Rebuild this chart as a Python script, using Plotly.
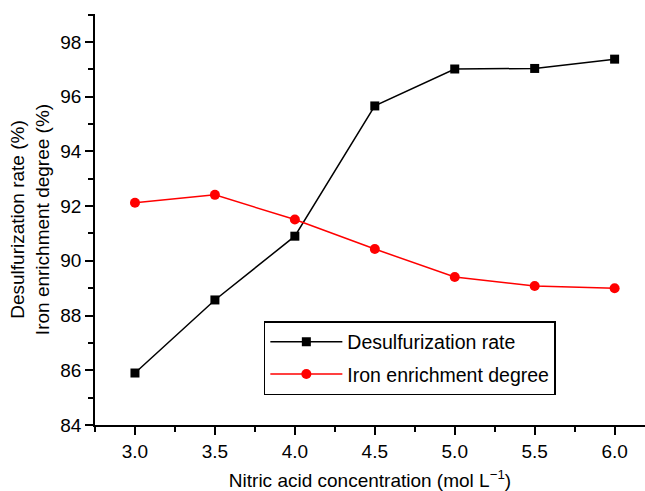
import plotly.graph_objects as go

conc = [3.0, 3.5, 4.0, 4.5, 5.0, 5.5, 6.0]
desulf = [85.9, 88.57, 90.9, 95.66, 97.01, 97.03, 97.37]
iron = [92.12, 92.41, 91.51, 90.43, 89.41, 89.08, 89.0]
x_ticks = [3.0, 3.5, 4.0, 4.5, 5.0, 5.5, 6.0]
y_ticks = [84, 86, 88, 90, 92, 94, 96, 98]

FAM = "Liberation Sans, Arial, sans-serif"
font = dict(family=FAM, size=19, color="black")

fig = go.Figure()
fig.add_trace(go.Scatter(x=conc, y=desulf, mode="lines+markers", name="Desulfurization rate",
                         legendgroup="a",
                         line=dict(color="black", width=1.5),
                         marker=dict(symbol="square", size=9, color="black")))
fig.add_trace(go.Scatter(x=conc, y=iron, mode="lines+markers", name="Iron enrichment degree",
                         legendgroup="b",
                         line=dict(color="red", width=1.5),
                         marker=dict(symbol="circle", size=10, color="red")))

fig.update_layout(
    width=645, height=491,
    margin=dict(l=95, r=0, t=14, b=66),
    paper_bgcolor="white", plot_bgcolor="white",
    font=font,
    showlegend=True,
    legend=dict(x=0.307, y=0.253, xanchor="left", yanchor="top",
                bordercolor="black", borderwidth=1.5, bgcolor="white",
                font=dict(family=FAM, size=19.5),
                itemwidth=72, traceorder="grouped", tracegroupgap=4),
    xaxis=dict(range=[2.75, 6.19], tickvals=x_ticks, ticktext=[f"{v:.1f}" for v in x_ticks],
               automargin=False,
               showline=True, linecolor="black", linewidth=1.5, showgrid=False, zeroline=False,
               ticks="outside", ticklen=8, tickwidth=1.5, tickcolor="black",
               tickfont=dict(size=19),
               minor=dict(dtick=0.25, tick0=2.75, ticks="outside", ticklen=5, tickwidth=1.5, tickcolor="black", showgrid=False),
               title=dict(text="Nitric acid concentration (mol L<sup>−1</sup>)", font=dict(size=19), standoff=18)),
    yaxis=dict(range=[84, 99.02], tickvals=y_ticks,
               automargin=False,
               showline=True, linecolor="black", linewidth=1.5, showgrid=False, zeroline=False,
               ticks="outside", ticklen=8, tickwidth=1.5, tickcolor="black",
               tickfont=dict(size=19),
               minor=dict(dtick=1, tick0=84, ticks="outside", ticklen=5, tickwidth=1.5, tickcolor="black", showgrid=False),
               title=dict(text="Desulfurization rate (%)<br>Iron enrichment degree (%)", font=dict(size=19), standoff=6)),
)

fig.write_html("out.html", config={"displayModeBar": False},
               post_script="document.body.style.margin='0';document.body.style.padding='0';")
